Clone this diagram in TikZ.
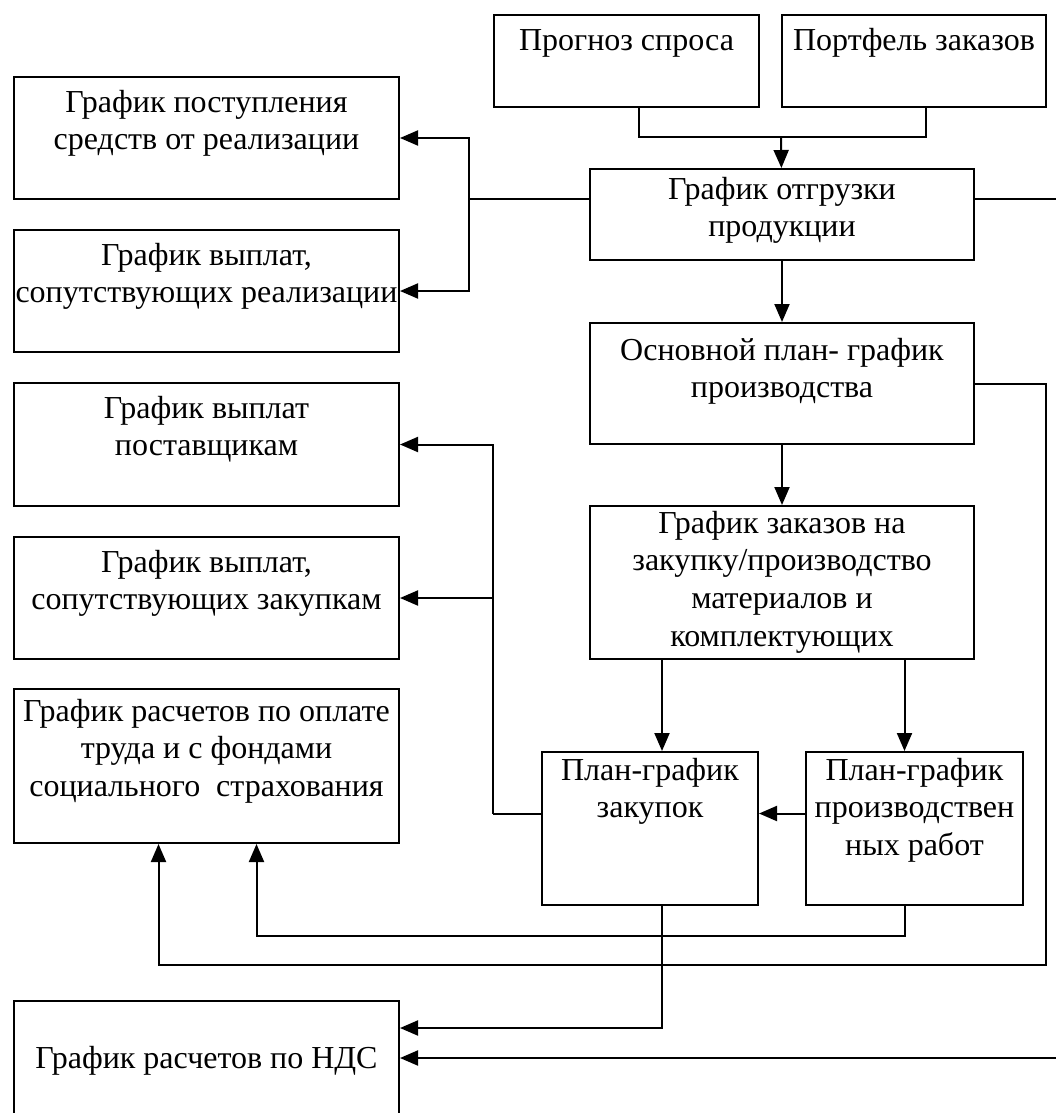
\documentclass[tikz,border=0pt]{standalone}
\usepackage{fontspec}
\setmainfont{Liberation Serif}
\usetikzlibrary{arrows.meta}
\newcommand{\flowarrow}{-{Triangle[length=9pt,width=7.5pt]}}
\newcommand{\blktext}[4][4.5pt]{\parbox[c][#2][t]{#3}{\centering\vspace*{#1}\strut #4}}

\begin{document}
\begin{tikzpicture}[x=0.5pt, y=-0.5pt, line width=1pt,
    every node/.style={shape=rectangle, draw, inner sep=0pt, anchor=north west,
      font=\fontsize{16}{18.8}\selectfont}]
        \useasboundingbox (0,0) rectangle (1055,1113);
        % top row
        \node (prognoz) at (493,14) {\blktext{46pt}{132.5pt}{Прогноз спроса}};
        \node (portfel) at (781,14) {\blktext{46pt}{132pt}{Портфель заказов}};
        % middle column
        \node (otgruzka) at (589,168) {\blktext[2pt]{45.5pt}{192pt}{График отгрузки\\продукции}};
        \node (osnplan) at (589,322) {\blktext[5.5pt]{60.5pt}{192pt}{Основной план- график\\производства}};
        \node (zakazy) at (589,505) {\blktext[0.5pt]{76.5pt}{192pt}{График заказов на\\закупку/производство\\материалов и\\комплектующих}};
        \node (zakupki) at (541,751) {\blktext[1pt]{76.5pt}{108pt}{План-график\\закупок}};
        \node (proizv) at (805,751) {\blktext[1pt]{76.5pt}{108.5pt}{План-график\\производствен\\ных работ}};
        % left column
        \node (postupl) at (13,76) {\blktext{61pt}{192.5pt}{График поступления\\средств от реализации}};
        \node (vypreal) at (13,229) {\blktext{61pt}{192.5pt}{График выплат,\\сопутствующих реализации}};
        \node (vyppost) at (13,382) {\blktext{61.5pt}{192.5pt}{График выплат\\поставщикам}};
        \node (vypzak) at (13,536) {\blktext{61pt}{192.5pt}{График выплат,\\сопутствующих закупкам}};
        \node (oplata) at (13,688) {\blktext[3pt]{77pt}{192.5pt}{График расчетов по оплате\\труда и с фондами\\социального \ страхования}};
        \node (nds) at (13,1000) {\blktext[20.5pt]{60pt}{192.5pt}{График расчетов по НДС}};

        \coordinate (jn) at (781,137);
        \draw ([xshift=6pt]prognoz.south) |- (jn) -| ([xshift=6pt]portfel.south);
        \draw[\flowarrow] (jn) -- (otgruzka);

        \coordinate (busAx) at (469,0);
        \coordinate (busA) at ([yshift=8pt]otgruzka.west -| busAx);
        \draw ([yshift=8pt]otgruzka.west) -- (busA);
        \draw[\flowarrow] (busA) |- (postupl.east);
        \draw[\flowarrow] (busA) |- (vypreal.east);

        \coordinate (redge) at (1075,600);
        \draw[\flowarrow] ([yshift=8pt]otgruzka.east) -| (redge) |- ([yshift=1.5pt]nds.east);

        \draw[\flowarrow] (otgruzka) -- (osnplan);
        \coordinate (lpA) at (1046,965);
        \draw[\flowarrow] (osnplan.east) -| (lpA) -| ([xshift=-24pt]oplata.south);

        \draw[\flowarrow] (osnplan) -- (zakazy);
        \coordinate (inA) at ([xshift=6pt]zakupki.north);
        \coordinate (inB) at ([xshift=-5pt]proizv.north);
        \draw[\flowarrow] (zakazy.south -| inA) -- (inA);
        \draw[\flowarrow] (zakazy.south -| inB) -- (inB);
        \draw[\flowarrow] ([yshift=7.5pt]proizv.west) -- ([yshift=7.5pt]zakupki.east);

        \coordinate (busBx) at (493,0);
        \coordinate (busB) at ([yshift=7.5pt]zakupki.west -| busBx);
        \draw ([yshift=7.5pt]zakupki.west) -- (busB);
        \draw[\flowarrow] (busB) |- (vyppost.east);
        \draw[\flowarrow] (busB) |- (vypzak.east);

        \draw[\flowarrow] ([xshift=-5pt]proizv.south) -- ++(0,30) -| ([xshift=25pt]oplata.south);
        \draw[\flowarrow] ([xshift=6pt]zakupki.south) |- ([yshift=16.5pt]nds.east);
    \end{tikzpicture}
\end{document}
